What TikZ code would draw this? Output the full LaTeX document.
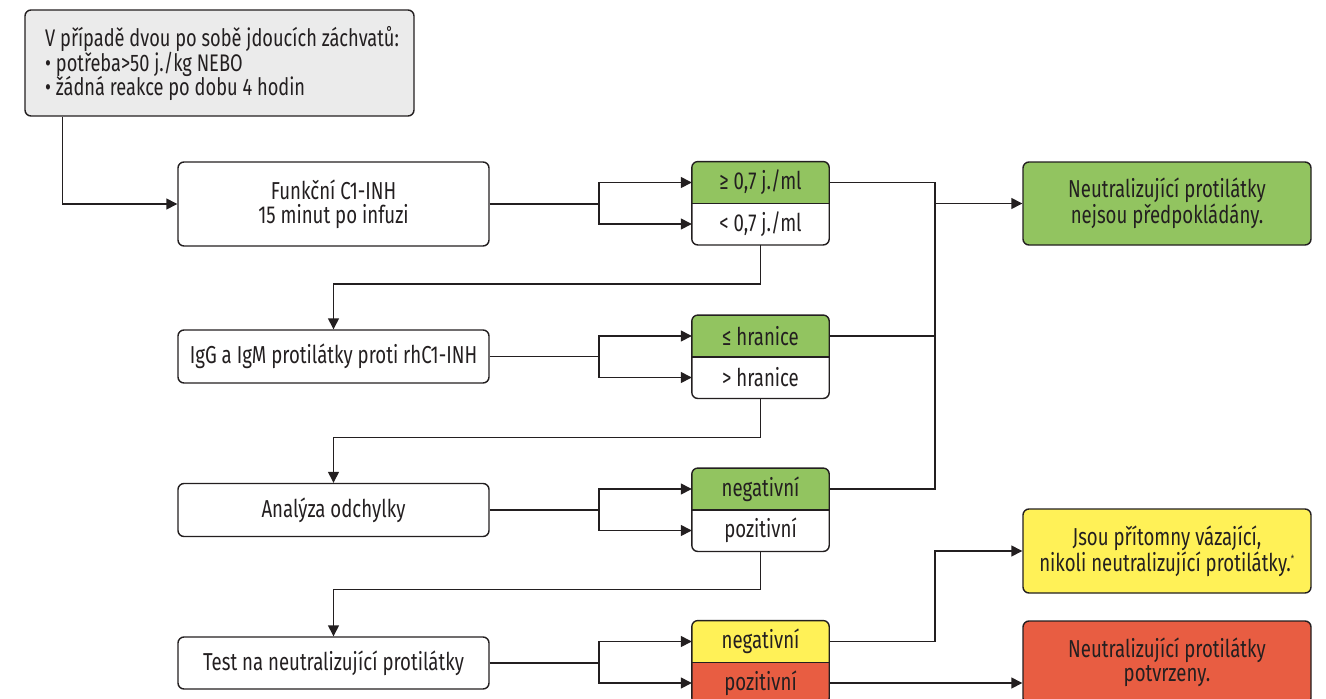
\documentclass[tikz,border=0pt]{standalone}
\usepackage{fontspec}
\setmainfont{Fira Sans}[FakeStretch=0.76]
\usetikzlibrary{arrows.meta,backgrounds,calc}
\definecolor{gr}{RGB}{146,196,96}
\definecolor{yl}{RGB}{255,241,87}
\definecolor{rd}{RGB}{232,93,66}
\definecolor{gy}{RGB}{235,235,235}
\definecolor{ln}{RGB}{35,31,32}
\begin{document}
\begin{tikzpicture}[x=1pt,y=-1pt,
  every node/.style={font=\fontsize{24.5}{24}\selectfont, text=ln},
  box/.style={draw=ln,line width=1.4pt,rounded corners=6pt,minimum width=311pt,align=center,inner sep=0pt},
  half/.style={minimum width=137pt,minimum height=41.5pt,inner sep=0pt},
  conn/.style={draw=ln,line width=1.4pt},
  arr/.style={conn,-{Triangle[length=11pt,width=11pt]}}]
\useasboundingbox (0,0) rectangle (1326,699);
\clip (0,0) rectangle (1326,699);

% start box
\node[box,fill=gy,minimum width=389pt,minimum height=106pt] (t0) at (219.5,63) {};
\node[anchor=west,align=flush left,inner sep=0pt,font=\fontsize{24}{24.5}\selectfont] (t0t) at (45,64)
 {V případě dvou po sobě jdoucích záchvatů:\\• potřeba>50 j./kg NEBO\\• žádná reakce po dobu 4 hodin};

% main steps
\node[box,minimum height=84pt] (f1) at (333.5,204) {Funkční C1-INH\\15 minut po infuzi};
\node[box,minimum height=53pt] (f2) at (333.5,356.5) {IgG a IgM protilátky proti rhC1-INH};
\node[box,minimum height=53pt] (f3) at (333.5,510) {Analýza odchylky};
\node[box,minimum height=52pt] (f4) at (333.5,663) {Test na neutralizující protilátky};

% split boxes
\node[half] (a1) at (760.5,182.5) {≥ 0,7 j./ml};
\node[half] (b1) at (760.5,224) {< 0,7 j./ml};
\node[half] (a2) at (760.5,336) {≤ hranice};
\node[half] (b2) at (760.5,377.5) {> hranice};
\node[half] (a3) at (760.5,489) {negativní};
\node[half] (b3) at (760.5,530.5) {pozitivní};
\node[half] (a4) at (760.5,641.5) {negativní};
\node[half] (b4) at (760.5,683) {pozitivní};

\begin{scope}[on background layer]
  \begin{scope}
    \clip[rounded corners=6pt] (a1.north west) rectangle (b1.south east);
    \fill[gr] (a1.north west) rectangle (a1.south east);
    \fill[white] (b1.north west) rectangle (b1.south east);
  \end{scope}
  \begin{scope}
    \clip[rounded corners=6pt] (a2.north west) rectangle (b2.south east);
    \fill[gr] (a2.north west) rectangle (a2.south east);
    \fill[white] (b2.north west) rectangle (b2.south east);
  \end{scope}
  \begin{scope}
    \clip[rounded corners=6pt] (a3.north west) rectangle (b3.south east);
    \fill[gr] (a3.north west) rectangle (a3.south east);
    \fill[white] (b3.north west) rectangle (b3.south east);
  \end{scope}
  \begin{scope}
    \clip[rounded corners=6pt] (a4.north west) rectangle (b4.south east);
    \fill[yl] (a4.north west) rectangle (a4.south east);
    \fill[rd] (b4.north west) rectangle (b4.south east);
  \end{scope}
\end{scope}
\foreach \k in {1,2,3,4}{
  \draw[conn,rounded corners=6pt] (a\k.north west) rectangle (b\k.south east);
  \draw[conn] (a\k.south west) -- (a\k.south east);
}

% result boxes
\node[box,fill=gr,minimum width=288pt,minimum height=83pt] (r1) at (1167,203.5) {Neutralizující protilátky\\nejsou předpokládány.};
\node[box,fill=yl,minimum width=288pt,minimum height=84pt] (r2) at (1167,551) {Jsou přítomny vázající,\\nikoli neutralizující protilátky.\textsuperscript{\fontsize{10}{10}\selectfont *}};
\node[box,fill=rd,minimum width=288pt,minimum height=83pt] (r3) at (1167,662.5) {Neutralizující protilátky\\potvrzeny.};

% helper columns
\coordinate (cx) at (599,0);
\coordinate (vx) at (935,0);

% connectors
\draw[arr] ($(t0.south west)+(38,0)$) |- (f1.west);
\foreach \k in {1,2,3,4}{
  \draw[arr] (f\k.east) -- (f\k.east -| cx) |- (a\k.west);
  \draw[arr] (f\k.east -| cx) |- (b\k.west);
}
\draw[arr] (b1.south) -- ++(0,39) -| (f2.north);
\draw[arr] (b2.south) -- ++(0,39) -| (f3.north);
\draw[arr] (b3.south) -- ++(0,38) -| (f4.north);

\draw[conn] (a1.east) -| (a3.east -| vx) -- (a3.east);
\draw[conn] (a2.east) -- (a2.east -| vx);
\draw[arr] (vx |- r1.west) -- (r1.west);
\draw[arr] (a4.east) -| (vx |- r2.west) -- (r2.west);
\draw[arr] (b4.east) -- (b4.east -| r3.west);
\end{tikzpicture}
\end{document}
